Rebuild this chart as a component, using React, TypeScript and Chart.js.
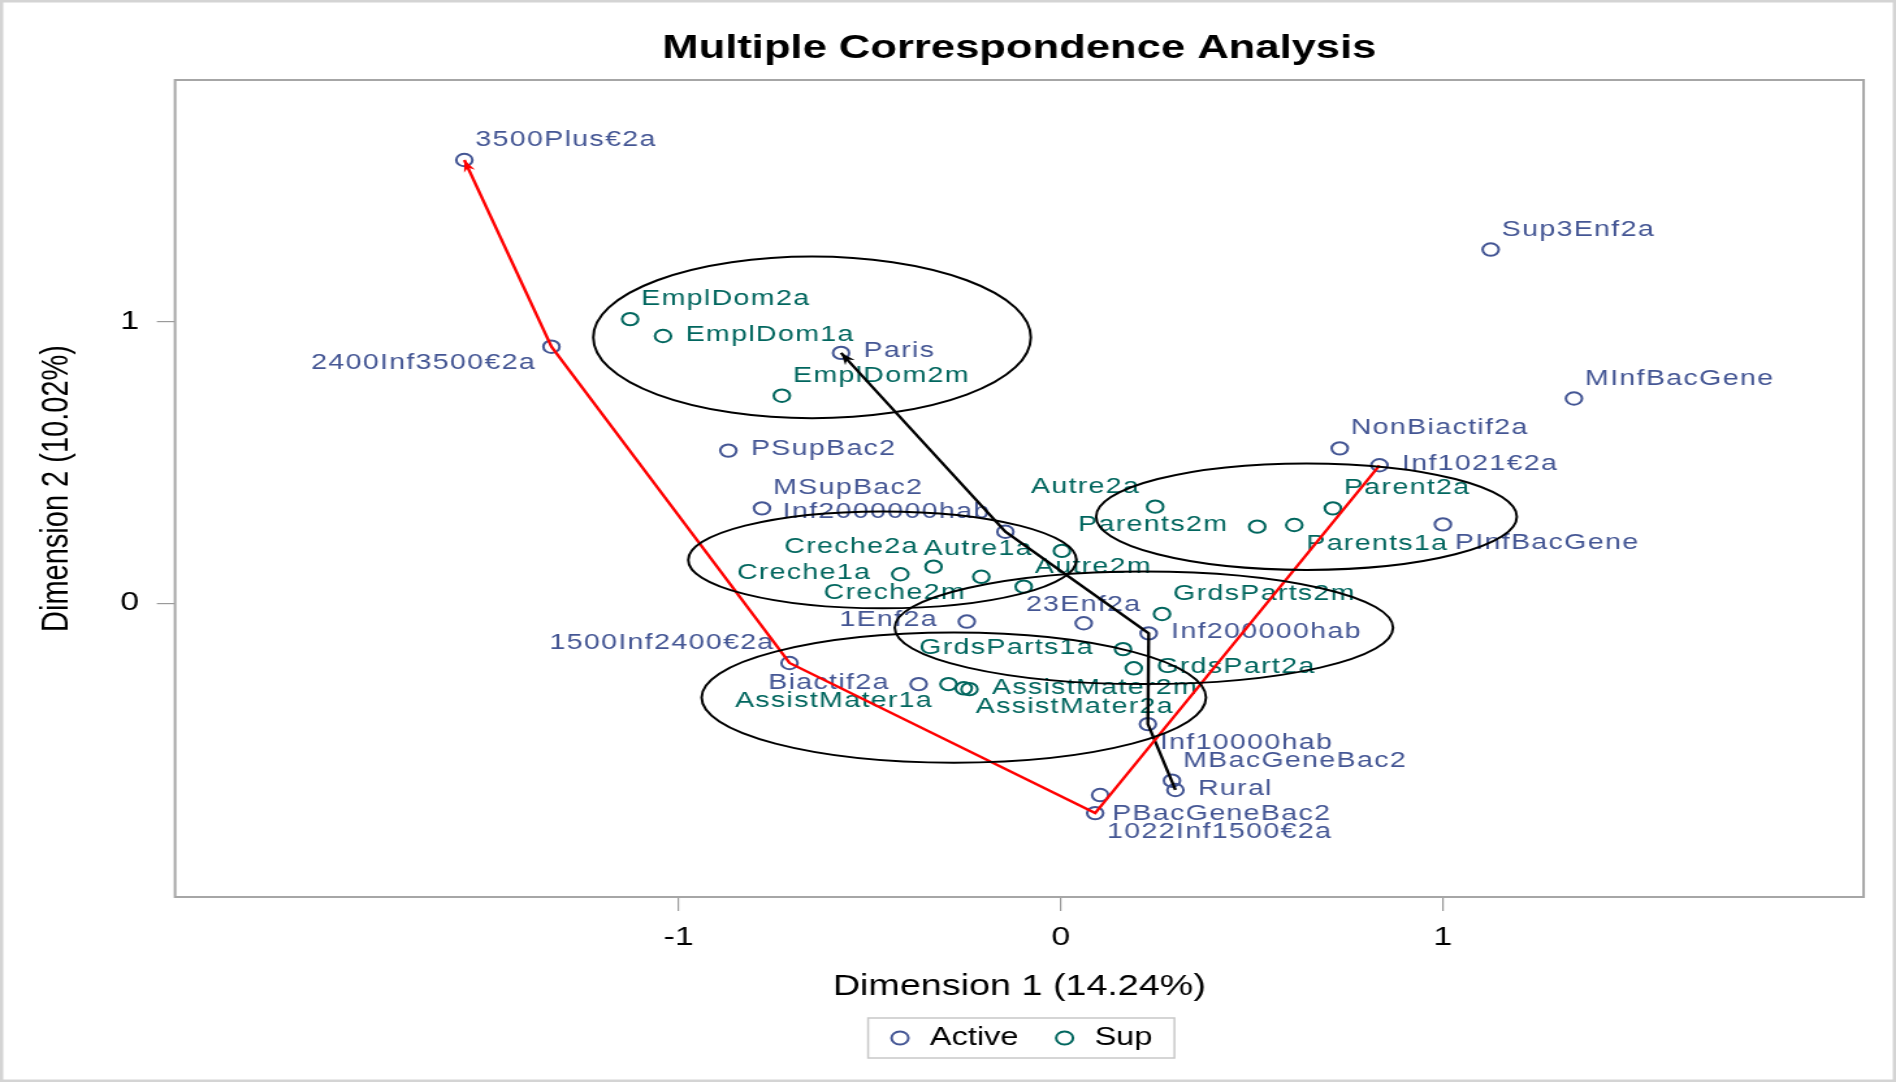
import React, { useEffect, useRef } from 'react';
import { Chart, registerables } from 'chart.js';

Chart.register(...registerables);

// ---------------- data ----------------
const ACTIVE_LABELS = [
  '3500Plus€2a', '2400Inf3500€2a', 'Paris', 'PSupBac2', 'MSupBac2', 'Inf2000000hab',
  'Sup3Enf2a', 'MInfBacGene', 'NonBiactif2a', 'Inf1021€2a', 'PInfBacGene', '23Enf2a',
  '1Enf2a', 'Inf200000hab', '1500Inf2400€2a', 'Biactif2a', 'Inf10000hab', 'MBacGeneBac2',
  'Rural', 'PBacGeneBac2', '1022Inf1500€2a',
];
const ACTIVE_DIM1 = [
  -1.561, -1.333, -0.575, -0.870, -0.782, -0.145,
  1.125, 1.343, 0.730, 0.834, 1.000, 0.060,
  -0.246, 0.230, -0.710, -0.372, 0.228, 0.291,
  0.300, 0.103, 0.090,
];
const ACTIVE_DIM2 = [
  1.574, 0.911, 0.889, 0.542, 0.337, 0.254,
  1.256, 0.727, 0.550, 0.490, 0.280, -0.071,
  -0.065, -0.107, -0.212, -0.287, -0.429, -0.630,
  -0.663, -0.681, -0.745,
];

const SUP_LABELS = [
  'EmplDom2a', 'EmplDom1a', 'EmplDom2m', 'Autre2a', 'Parents2m', 'Parents1a',
  'Parent2a', 'Creche2a', 'Creche1a', 'Creche2m', 'Autre1a', 'Autre2m',
  'GrdsParts2m', 'GrdsParts1a', 'GrdsPart2a', 'AssistMater1a', 'AssistMater2m', 'AssistMater2a',
];
const SUP_DIM1 = [
  -1.127, -1.041, -0.730, 0.247, 0.514, 0.611,
  0.712, -0.333, -0.420, -0.208, 0.003, -0.097,
  0.265, 0.163, 0.191, -0.294, -0.239, -0.254,
];
const SUP_DIM2 = [
  1.009, 0.949, 0.737, 0.343, 0.272, 0.278,
  0.337, 0.130, 0.103, 0.094, 0.186, 0.059,
  -0.038, -0.163, -0.231, -0.287, -0.305, -0.302,
];

// trajectories (by category name)
const INCOME_PATH = ['Inf1021€2a', '1022Inf1500€2a', '1500Inf2400€2a', '2400Inf3500€2a', '3500Plus€2a'];
const TOWN_PATH = ['Rural', 'Inf10000hab', 'Inf200000hab', 'Inf2000000hab', 'Paris'];

// grouping ellipses (data units)
const ELLIPSE_CX = [-0.651, -0.467, 0.643, 0.2175, -0.280];
const ELLIPSE_CY = [0.944, 0.154, 0.3075, -0.087, -0.335];
const ELLIPSE_RX = [0.5725, 0.508, 0.5505, 0.652, 0.660];
const ELLIPSE_RY = [0.287, 0.172, 0.189, 0.200, 0.231];

const X_TICKS = [-1, 0, 1];
const Y_TICKS = [0, 1];
const X_MIN = -2.318;
const X_MAX = 2.101;
const Y_MIN = -1.043;
const Y_MAX = 1.858;

// ---------------- layout / style ----------------
const FONT = '"Liberation Sans", Arial, sans-serif';
const STRETCH = 1.3;
const CSS_W = 1896;
const CSS_H = 1082;
const CANVAS_W = Math.round(CSS_W / STRETCH);
const CANVAS_H = CSS_H;

const ACTIVE_COLOR = '#445694';
const SUP_COLOR = '#01665E';

const LABEL_SIDE: Record<string, string> = {
  '3500Plus€2a': 'tr', '2400Inf3500€2a': 'bl', 'Paris': 'r', 'PSupBac2': 'r', 'MSupBac2': 'tr',
  'Inf2000000hab': 'tl', 'Sup3Enf2a': 'tr', 'MInfBacGene': 'tr', 'NonBiactif2a': 'tr',
  'Inf1021€2a': 'r', 'PInfBacGene': 'br', '23Enf2a': 't', '1Enf2a': 'l', 'Inf200000hab': 'r',
  '1500Inf2400€2a': 'tl', 'Biactif2a': 'l', 'Inf10000hab': 'br', 'MBacGeneBac2': 'tr',
  'Rural': 'r', 'PBacGeneBac2': 'br', '1022Inf1500€2a': 'br',
  'EmplDom2a': 'tr', 'EmplDom1a': 'r', 'EmplDom2m': 'tr', 'Autre2a': 'tl', 'Parents2m': 'l',
  'Parents1a': 'br', 'Parent2a': 'tr', 'Creche2a': 'tl', 'Creche1a': 'l', 'Creche2m': 'bl',
  'Autre1a': 'l', 'Autre2m': 'tr', 'GrdsParts2m': 'tr', 'GrdsParts1a': 'l', 'GrdsPart2a': 'r',
  'AssistMater1a': 'bl', 'AssistMater2m': 'r', 'AssistMater2a': 'br',
};

const OFFSETS: Record<string, { dx: number; dy: number; align: CanvasTextAlign }> = {
  r: { dx: 17.3, dy: -1.5, align: 'left' },
  l: { dx: -22.3, dy: -1.5, align: 'right' },
  tr: { dx: 8.5, dy: -20, align: 'left' },
  tl: { dx: -11.5, dy: -20, align: 'right' },
  br: { dx: 9.2, dy: 18.5, align: 'left' },
  bl: { dx: -11.8, dy: 16.5, align: 'right' },
  t: { dx: 0, dy: -18.3, align: 'center' },
};

function findPoint(name: string) {
  let i = ACTIVE_LABELS.indexOf(name);
  if (i >= 0) return { x: ACTIVE_DIM1[i], y: ACTIVE_DIM2[i] };
  i = SUP_LABELS.indexOf(name);
  return { x: SUP_DIM1[i], y: SUP_DIM2[i] };
}

function drawArrowHead(ctx: CanvasRenderingContext2D, x0: number, y0: number, x1: number, y1: number, color: string) {
  const ang = Math.atan2(y1 - y0, x1 - x0);
  const L = 12, W = 4.5, N = 8;
  ctx.save();
  ctx.translate(x1, y1);
  ctx.rotate(ang);
  ctx.beginPath();
  ctx.moveTo(0, 0);
  ctx.lineTo(-L, -W);
  ctx.lineTo(-N, 0);
  ctx.lineTo(-L, W);
  ctx.closePath();
  ctx.fillStyle = color;
  ctx.fill();
  ctx.restore();
}

const annotatePlugin = {
  id: 'mcaAnnotate',
  beforeDatasetsDraw(chart: any) {
    const { ctx } = chart;
    const xs = chart.scales.x, ys = chart.scales.y;
    ctx.save();
    ctx.font = `22px ${FONT}`;
    (ctx as any).letterSpacing = '1px';
    ctx.textBaseline = 'middle';
    const groups: [string[], number[], number[], string][] = [
      [ACTIVE_LABELS, ACTIVE_DIM1, ACTIVE_DIM2, ACTIVE_COLOR],
      [SUP_LABELS, SUP_DIM1, SUP_DIM2, SUP_COLOR],
    ];
    groups.forEach(([names, dx, dy, color]) => {
      names.forEach((name, i) => {
        const px = xs.getPixelForValue(dx[i]);
        const py = ys.getPixelForValue(dy[i]);
        const o = OFFSETS[LABEL_SIDE[name] || 'r'];
        ctx.textAlign = o.align;
        ctx.fillStyle = color;
        ctx.fillText(name, px + o.dx, py + o.dy);
      });
    });
    ctx.restore();
  },
  afterDatasetsDraw(chart: any) {
    const { ctx, chartArea } = chart;
    const xs = chart.scales.x, ys = chart.scales.y;
    ctx.save();
    // ellipses
    ctx.strokeStyle = '#000';
    ctx.lineWidth = 2;
    ELLIPSE_CX.forEach((cx, i) => {
      const px = xs.getPixelForValue(cx);
      const py = ys.getPixelForValue(ELLIPSE_CY[i]);
      const rx = Math.abs(xs.getPixelForValue(cx + ELLIPSE_RX[i]) - px);
      const ry = Math.abs(ys.getPixelForValue(ELLIPSE_CY[i] + ELLIPSE_RY[i]) - py);
      ctx.beginPath();
      ctx.ellipse(px, py, rx, ry, 0, 0, Math.PI * 2);
      ctx.stroke();
    });
    // arrow heads
    const paths: [string[], string][] = [[INCOME_PATH, '#ff0000'], [TOWN_PATH, '#000000']];
    paths.forEach(([names, color]) => {
      const a = findPoint(names[names.length - 2]);
      const b = findPoint(names[names.length - 1]);
      drawArrowHead(ctx, xs.getPixelForValue(a.x), ys.getPixelForValue(a.y),
        xs.getPixelForValue(b.x), ys.getPixelForValue(b.y), color);
    });
    // frame
    ctx.strokeStyle = '#a6a6a6';
    ctx.lineWidth = 2;
    ctx.strokeRect(chartArea.left, chartArea.top, chartArea.right - chartArea.left, chartArea.bottom - chartArea.top);
    ctx.restore();
  },
  afterDraw(chart: any) {
    const { ctx } = chart;
    ctx.save();
    const lg = chart.legend;
    if (lg && lg.legendHitBoxes && lg.legendHitBoxes.length) {
      const hb = lg.legendHitBoxes;
      const first = hb[0];
      const last = hb[hb.length - 1];
      const left = first.left - 14;
      const right = last.left + last.width + 17;
      const top = first.top - 7.5;
      ctx.strokeStyle = '#c8c8c8';
      ctx.lineWidth = 1.5;
      ctx.strokeRect(left, top, right - left, 40);
    }
    ctx.strokeStyle = '#d4d4d4';
    ctx.lineWidth = 2.5;
    ctx.strokeRect(1.25, 1.25, chart.width - 2.5, chart.height - 2.5);
    ctx.restore();
  },
};

export default function App() {
  const ref = useRef<HTMLCanvasElement | null>(null);

  useEffect(() => {
    document.body.style.margin = '0';
    document.body.style.overflow = 'hidden';
    const canvas = ref.current;
    if (!canvas) return;
    Chart.defaults.font.family = FONT;

    const activePts = ACTIVE_LABELS.map((_, i) => ({ x: ACTIVE_DIM1[i], y: ACTIVE_DIM2[i] }));
    const supPts = SUP_LABELS.map((_, i) => ({ x: SUP_DIM1[i], y: SUP_DIM2[i] }));
    const incomePts = INCOME_PATH.map(findPoint);
    const townPts = TOWN_PATH.map(findPoint);

    const chart = new Chart(canvas, {
      type: 'scatter',
      data: {
        datasets: [
          {
            label: 'Active', data: activePts, pointStyle: 'circle', pointRadius: 6.2,
            borderColor: ACTIVE_COLOR, backgroundColor: 'rgba(0,0,0,0)', borderWidth: 2,
            pointBorderWidth: 2, order: 2,
          },
          {
            label: 'Sup', data: supPts, pointStyle: 'circle', pointRadius: 6.2,
            borderColor: SUP_COLOR, backgroundColor: 'rgba(0,0,0,0)', borderWidth: 2,
            pointBorderWidth: 2, order: 2,
          },
          {
            type: 'line', label: 'income', data: incomePts, borderColor: '#ff0000', borderWidth: 2.4,
            pointRadius: 0, fill: false, tension: 0, showLine: true, order: 0,
          } as any,
          {
            type: 'line', label: 'town', data: townPts, borderColor: '#000000', borderWidth: 2.4,
            pointRadius: 0, fill: false, tension: 0, showLine: true, order: 0,
          } as any,
        ],
      },
      options: {
        animation: false,
        responsive: false,
        maintainAspectRatio: false,
        events: [],
        layout: { padding: { left: 0, top: 0, right: CANVAS_W - 1863 / STRETCH, bottom: 21.5 } },
        plugins: {
          tooltip: { enabled: false },
          title: {
            display: true,
            text: 'Multiple Correspondence Analysis',
            color: '#000',
            fullSize: false,
            font: { family: FONT, size: 33.5, weight: 'bold', lineHeight: 1.2 },
            padding: { top: 28.4, bottom: 11.4 },
          },
          legend: {
            display: true,
            position: 'bottom',
            fullSize: false,
            labels: {
              filter: (item: any) => item.datasetIndex < 2,
              usePointStyle: true,
              pointStyle: 'circle',
              boxWidth: 21,
              boxHeight: 9.2,
              padding: 25,
              color: '#000',
              font: { family: FONT, size: 25 },
            },
          },
        },
        scales: {
          x: {
            type: 'linear',
            min: X_MIN,
            max: X_MAX,
            afterBuildTicks: (s: any) => { s.ticks = X_TICKS.map((v) => ({ value: v })); },
            afterFit: (s: any) => { s.height = 103.5; },
            ticks: {
              autoSkip: false, maxRotation: 0, padding: 10.9, color: '#000',
              font: { family: FONT, size: 26 },
              callback: (v: any) => String(v),
            },
            grid: { drawOnChartArea: false, drawTicks: true, tickLength: 14, color: '#9a9a9a', lineWidth: 1.2 },
            border: { display: false },
            title: {
              display: true, text: 'Dimension 1 (14.24%)', color: '#000',
              font: { family: FONT, size: 29, lineHeight: 0.9 }, padding: { top: 0, bottom: 0 },
            },
          },
          y: {
            type: 'linear',
            min: Y_MIN,
            max: Y_MAX,
            afterBuildTicks: (s: any) => { s.ticks = Y_TICKS.map((v) => ({ value: v })); },
            afterFit: (s: any) => { s.width = 175 / STRETCH; },
            ticks: {
              autoSkip: false, padding: 13.6, color: '#000',
              font: { family: FONT, size: 26 },
              callback: (v: any) => String(v),
            },
            grid: { drawOnChartArea: false, drawTicks: true, tickLength: 14, color: '#9a9a9a', lineWidth: 1.2 },
            border: { display: false },
            title: {
              display: true, text: 'Dimension 2 (10.02%)', color: '#000',
              font: { family: FONT, size: 29, lineHeight: 1.2 }, padding: { top: 26.5, bottom: 0 },
            },
          },
        },
      } as any,
      plugins: [annotatePlugin],
    });

    return () => { chart.destroy(); };
  }, []);

  return (
    <canvas
      ref={ref}
      width={CANVAS_W}
      height={CANVAS_H}
      style={{ width: `${CSS_W}px`, height: `${CSS_H}px`, display: 'block' }}
    />
  );
}
